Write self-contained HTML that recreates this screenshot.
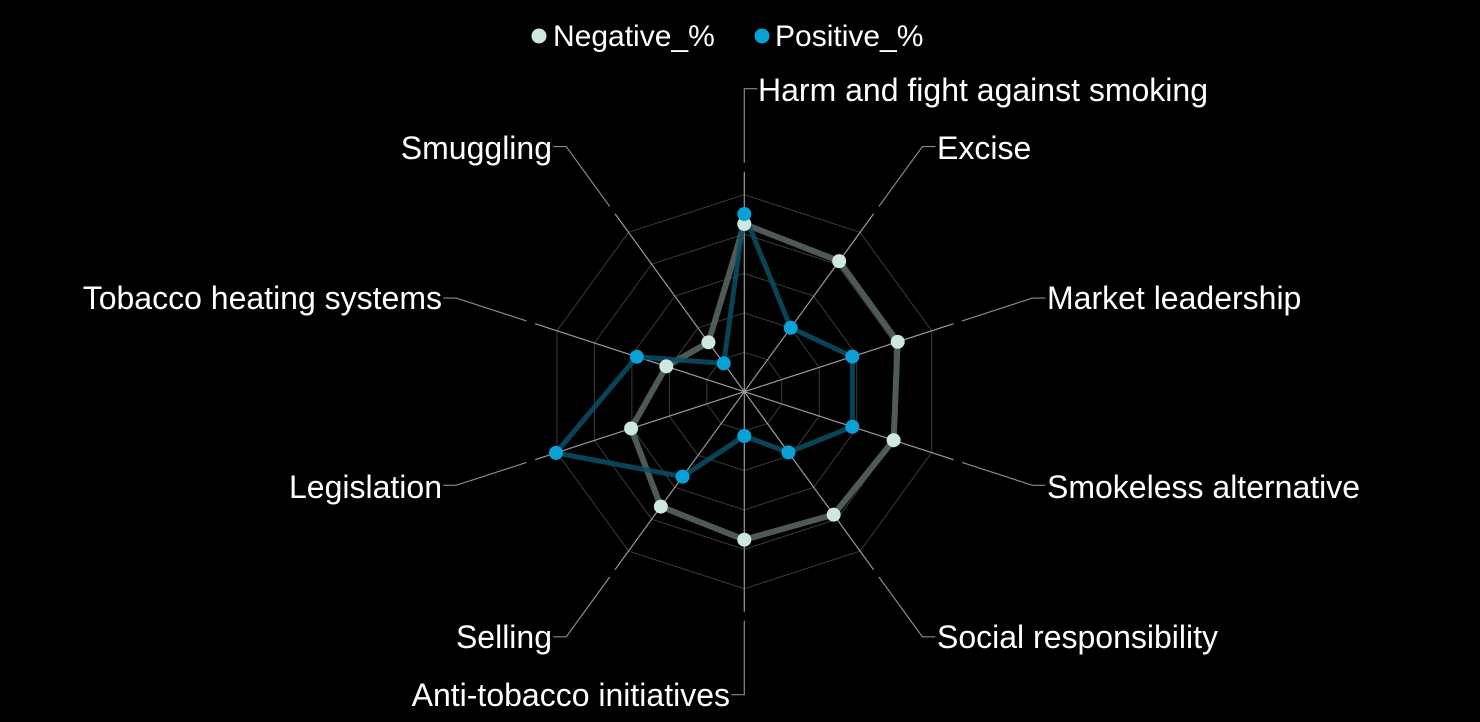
<!DOCTYPE html>
<html><head><meta charset="utf-8"><style>
html,body{margin:0;padding:0;background:#000;}
svg{display:block;}
text{font-family:"Liberation Sans",sans-serif;fill:#fff;}
</style></head><body>
<svg id="s" width="1480" height="722" xmlns="http://www.w3.org/2000/svg">
<g id="grid"></g>
<g id="data"></g>
<g font-size="30">
<circle cx="539" cy="36" r="7.5" fill="#cde8df"/>
<text x="553" y="46">Negative_%</text>
<circle cx="762" cy="36" r="7.5" fill="#0aa0d8"/>
<text x="775" y="46">Positive_%</text>
</g>
<g font-size="32">
<text x="758" y="101">Harm and fight against smoking</text>
<text x="937" y="159">Excise</text>
<text x="1047" y="309">Market leadership</text>
<text x="1047" y="498">Smokeless alternative</text>
<text x="937" y="648">Social responsibility</text>
<text x="730" y="706" text-anchor="end">Anti-tobacco initiatives</text>
<text x="552" y="648" text-anchor="end">Selling</text>
<text x="442" y="498" text-anchor="end">Legislation</text>
<text x="442" y="309" text-anchor="end">Tobacco heating systems</text>
<text x="552" y="159" text-anchor="end">Smuggling</text>
</g>
</svg>
<script>
var cx=744.3,cy=391.7,NS="http://www.w3.org/2000/svg";
function P(r,i){var a=i*Math.PI/5;return [cx+r*Math.sin(a),cy-r*Math.cos(a)];}
function el(p,t,at){var e=document.createElementNS(NS,t);for(var k in at)e.setAttribute(k,at[k]);p.appendChild(e);return e;}
var g=document.getElementById('grid'),d=document.getElementById('data');
for(var k=1;k<=5;k++){var pts=[];for(var i=0;i<10;i++)pts.push(P(39.4*k,i).join(','));
el(g,'polygon',{points:pts.join(' '),fill:'none',stroke:'#3a3a3a','stroke-width':1});}
for(var i=0;i<10;i++){var a=P(0,i),b=P(220,i);
el(g,'line',{x1:a[0],y1:a[1],x2:b[0],y2:b[1],stroke:'#9a9a9a','stroke-width':1.2});
var c=P(229,i),e=P(303,i);var hx=(i==0||(i>=1&&i<=4))?e[0]+13:e[0]-13;
el(g,'polyline',{points:c.join(',')+' '+e.join(',')+' '+hx+','+e[1],fill:'none',stroke:'#8a8a8a','stroke-width':1.2});}
var neg=[167.7,161.4,161.3,157,152,148,142,119,82,61];
var pos=[177.7,79,113.6,113.6,75,44.3,105,198,113,35];
function series(v,sc,w){var pts=v.map(function(r,i){return P(r,i).join(',');});
el(d,'polygon',{points:pts.join(' '),fill:'none',stroke:sc,'stroke-width':w,'stroke-linejoin':'round','stroke-opacity':0.85});}
series(neg,'#5a6a66',6);series(pos,'#0b4f66',5);
neg.forEach(function(r,i){var p=P(r,i);el(d,'circle',{cx:p[0],cy:p[1],r:7,fill:'#cde8df'});});
pos.forEach(function(r,i){var p=P(r,i);el(d,'circle',{cx:p[0],cy:p[1],r:7,fill:'#0aa0d8'});});
</script>
</body></html>
